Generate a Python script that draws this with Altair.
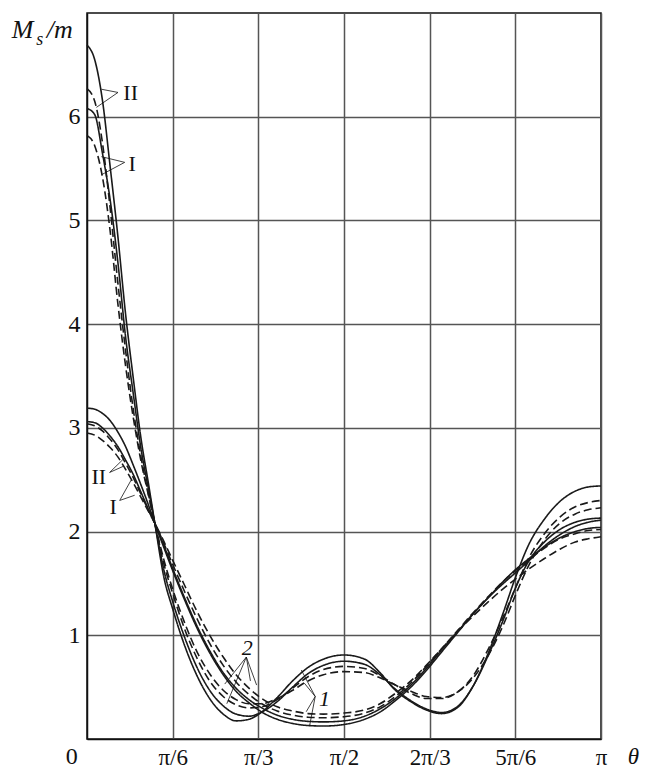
import altair as alt
import pandas as pd

# theta in units of pi
T = [0, 0.015, 0.03, 0.045, 0.06, 0.075, 0.09, 0.105, 0.12, 0.132, 0.15, 0.167, 0.19, 0.215,
     0.24, 0.265, 0.29, 0.315, 0.34, 0.37, 0.40, 0.43, 0.46, 0.5, 0.54, 0.57, 0.6, 0.63, 0.66,
     0.69, 0.72, 0.75, 0.78, 0.81, 0.833, 0.86, 0.89, 0.92, 0.95, 0.975, 1.0]

# steep forward-peak curves (oscillating)
A = [6.69, 6.55, 6.16, 5.52, 4.85, 4.10, 3.48, 2.90, 2.45, 2.08, 1.55, 1.25, 0.90, 0.60,
     0.38, 0.24, 0.175, 0.19, 0.26, 0.40, 0.56, 0.69, 0.77, 0.81, 0.77, 0.64, 0.47, 0.36, 0.28,
     0.245, 0.30, 0.50, 0.82, 1.22, 1.55, 1.88, 2.12, 2.29, 2.39, 2.43, 2.44]
B = [6.08, 6.02, 5.65, 5.20, 4.60, 3.88, 3.33, 2.80, 2.40, 2.08, 1.62, 1.32, 0.98, 0.68,
     0.46, 0.32, 0.24, 0.22, 0.26, 0.36, 0.50, 0.63, 0.71, 0.75, 0.72, 0.62, 0.48, 0.37, 0.29,
     0.255, 0.31, 0.50, 0.80, 1.15, 1.45, 1.72, 1.90, 2.02, 2.09, 2.12, 2.13]
C = [6.27, 6.15, 5.75, 5.12, 4.40, 3.75, 3.18, 2.72, 2.35, 2.08, 1.68, 1.40, 1.06, 0.77,
     0.55, 0.41, 0.33, 0.30, 0.31, 0.38, 0.49, 0.60, 0.67, 0.70, 0.68, 0.61, 0.52, 0.44, 0.39,
     0.39, 0.45, 0.60, 0.86, 1.18, 1.45, 1.75, 1.98, 2.14, 2.24, 2.28, 2.30]
D = [5.82, 5.72, 5.42, 4.90, 4.20, 3.60, 3.10, 2.68, 2.34, 2.08, 1.72, 1.44, 1.12, 0.83,
     0.62, 0.47, 0.38, 0.34, 0.34, 0.39, 0.47, 0.56, 0.62, 0.65, 0.64, 0.59, 0.52, 0.46, 0.41,
     0.40, 0.45, 0.58, 0.80, 1.10, 1.38, 1.68, 1.92, 2.08, 2.17, 2.21, 2.23]
# broad curves (single minimum near pi/2)
E = [3.19, 3.18, 3.14, 3.07, 2.96, 2.82, 2.64, 2.45, 2.25, 2.08, 1.84, 1.62, 1.34, 1.06,
     0.82, 0.62, 0.46, 0.35, 0.26, 0.19, 0.15, 0.13, 0.125, 0.14, 0.19, 0.26, 0.37, 0.50, 0.66,
     0.84, 1.02, 1.20, 1.36, 1.50, 1.60, 1.72, 1.86, 1.97, 2.05, 2.09, 2.11]
F = [3.06, 3.05, 3.00, 2.92, 2.82, 2.69, 2.55, 2.38, 2.21, 2.08, 1.86, 1.64, 1.36, 1.08,
     0.84, 0.64, 0.49, 0.38, 0.30, 0.23, 0.19, 0.17, 0.165, 0.175, 0.22, 0.29, 0.39, 0.52, 0.68,
     0.86, 1.03, 1.20, 1.36, 1.52, 1.63, 1.74, 1.85, 1.94, 2.00, 2.03, 2.04]
G = [3.04, 3.02, 2.97, 2.89, 2.79, 2.66, 2.52, 2.36, 2.20, 2.08, 1.88, 1.68, 1.42, 1.15,
     0.91, 0.71, 0.55, 0.43, 0.34, 0.27, 0.23, 0.21, 0.205, 0.215, 0.25, 0.31, 0.41, 0.54, 0.70,
     0.87, 1.04, 1.21, 1.37, 1.52, 1.62, 1.73, 1.84, 1.93, 1.98, 2.01, 2.02]
H = [2.95, 2.93, 2.88, 2.81, 2.72, 2.60, 2.47, 2.33, 2.19, 2.08, 1.90, 1.72, 1.48, 1.22,
     0.99, 0.79, 0.62, 0.49, 0.39, 0.31, 0.27, 0.245, 0.24, 0.25, 0.28, 0.34, 0.44, 0.56, 0.71,
     0.87, 1.03, 1.18, 1.32, 1.45, 1.54, 1.64, 1.74, 1.83, 1.90, 1.93, 1.95]

CURVES = [("A", A, "solid"), ("B", B, "solid"), ("C", C, "dashed"), ("D", D, "dashed"),
          ("E", E, "solid"), ("F", F, "solid"), ("G", G, "dashed"), ("H", H, "dashed")]

rows = []
for name, vals, style in CURVES:
    for t, v in zip(T, vals):
        rows.append({"t": t, "v": v, "curve": name, "style": style})
df = pd.DataFrame(rows)

# annotation pointer lines (apex -> curve point), data coordinates
PTR_T = [0.0603, 0.0603, 0.0733, 0.0733, 0.044, 0.044, 0.0636, 0.0636,
         0.31, 0.31, 0.31, 0.31, 0.444, 0.444, 0.444, 0.444]
PTR_V = [6.234, 6.234, 5.56, 5.56, 2.57, 2.57, 2.30, 2.30,
         0.79, 0.79, 0.79, 0.79, 0.41, 0.41, 0.41, 0.41]
PTR_T2 = [0.028, 0.0183, 0.028, 0.028, 0.071, 0.071, 0.0863, 0.0927,
          0.268, 0.272, 0.318, 0.33, 0.417, 0.423, 0.4265, 0.433]
PTR_V2 = [6.265, 6.09, 5.615, 5.44, 2.70, 2.63, 2.50, 2.35,
          0.53, 0.34, 0.56, 0.52, 0.665, 0.537, 0.263, 0.125]
ptr = pd.DataFrame({"t": PTR_T, "v": PTR_V, "t2": PTR_T2, "v2": PTR_V2})

LAB_TEXT = ["II", "I", "II", "I"]
LAB_T = [0.085, 0.088, 0.0229, 0.0507]
LAB_V = [6.23, 5.54, 2.53, 2.24]
labs = pd.DataFrame({"txt": LAB_TEXT, "t": LAB_T, "v": LAB_V})

NUM_TEXT = ["2", "1"]
NUM_T = [0.312, 0.462]
NUM_V = [0.875, 0.39]
nums = pd.DataFrame({"txt": NUM_TEXT, "t": NUM_T, "v": NUM_V})

FONT = "Liberation Serif"
xscale = alt.Scale(domain=[0, 1], nice=False, zero=False)
yscale = alt.Scale(domain=[0, 7], nice=False, zero=False)

label_expr = ("datum.value < 0.2 ? 'π/6' : datum.value < 0.4 ? 'π/3' : datum.value < 0.6 ? 'π/2'"
              " : datum.value < 0.7 ? '2π/3' : datum.value < 0.9 ? '5π/6' : 'π'")

base = alt.Chart(df)
lines = base.mark_line(interpolate="monotone", color="#1a1a1a", strokeWidth=1.6).encode(
    x=alt.X("t:Q", scale=xscale,
            axis=alt.Axis(values=[1/6, 2/6, 3/6, 4/6, 5/6, 1], labelExpr=label_expr, title=None,
                          grid=True, ticks=False, labelFont=FONT, labelFontSize=23,
                          labelColor="#111", labelBaseline="alphabetic", labelPadding=25,
                          labelFlush=False, labelOverlap=False, domainColor="#111",
                          domainWidth=1.5, gridColor="#555", gridWidth=1.5)),
    y=alt.Y("v:Q", scale=yscale,
            axis=alt.Axis(values=[1, 2, 3, 4, 5, 6], format="d", title=None, grid=True,
                          ticks=False, labelFont=FONT, labelFontSize=24, labelColor="#111",
                          labelPadding=7, domainColor="#111", domainWidth=1.5,
                          gridColor="#555", gridWidth=1.5, labelFlush=False)),
    detail="curve:N",
    strokeDash=alt.StrokeDash("style:N", scale=alt.Scale(domain=["solid", "dashed"],
                                                         range=[[1, 0], [8, 4]]), legend=None),
)

pointers = alt.Chart(ptr).mark_rule(color="#111", strokeWidth=0.8).encode(
    x=alt.X("t:Q", scale=xscale), y=alt.Y("v:Q", scale=yscale), x2="t2:Q", y2="v2:Q")

roman = alt.Chart(labs).mark_text(font=FONT, fontSize=22, color="#111", align="center",
                                  baseline="middle").encode(
    x=alt.X("t:Q", scale=xscale), y=alt.Y("v:Q", scale=yscale), text="txt:N")

numbers = alt.Chart(nums).mark_text(font=FONT, fontSize=22, fontStyle="italic", color="#111",
                                    align="center", baseline="middle").encode(
    x=alt.X("t:Q", scale=xscale), y=alt.Y("v:Q", scale=yscale), text="txt:N")

# axis title pieces
TIT_TEXT = ["M", "/m"]
TIT_T = [-0.1463, -0.0784]
TIT_V = [6.757, 6.757]
tit = pd.DataFrame({"txt": TIT_TEXT, "t": TIT_T, "v": TIT_V})
titles = alt.Chart(tit).mark_text(font=FONT, fontSize=26, fontStyle="italic", color="#111",
                                  align="left", baseline="alphabetic").encode(
    x=alt.X("t:Q", scale=xscale), y=alt.Y("v:Q", scale=yscale), text="txt:N")

sub = pd.DataFrame({"txt": ["s"], "t": [-0.0985], "v": [6.69]})
subs = alt.Chart(sub).mark_text(font=FONT, fontSize=18, fontStyle="italic", color="#111",
                                align="left", baseline="alphabetic").encode(
    x=alt.X("t:Q", scale=xscale), y=alt.Y("v:Q", scale=yscale), text="txt:N")

theta = pd.DataFrame({"txt": ["θ"], "t": [1.074], "v": [-0.241]})
theta_lab = alt.Chart(theta).mark_text(font=FONT, fontSize=23, fontStyle="italic", color="#111",
                                       align="right", baseline="alphabetic").encode(
    x=alt.X("t:Q", scale=xscale), y=alt.Y("v:Q", scale=yscale), text="txt:N")

corner = pd.DataFrame({"txt": ["0"], "t": [-0.0297], "v": [-0.241]})
zero = alt.Chart(corner).mark_text(font=FONT, fontSize=24, color="#111", align="center",
                                   baseline="alphabetic").encode(
    x=alt.X("t:Q", scale=xscale), y=alt.Y("v:Q", scale=yscale), text="txt:N")

chart = alt.layer(lines, pointers, roman, numbers, titles, subs, theta_lab, zero).properties(
    width=514, height=726,
    autosize=alt.AutoSizeParams(type="none"),
    padding={"left": 79, "top": 5, "right": 40, "bottom": 30},
    background="white",
).configure_view(stroke="#111", strokeWidth=1.5)

chart.save("out.html", embed_options={"renderer": "svg", "actions": False})
